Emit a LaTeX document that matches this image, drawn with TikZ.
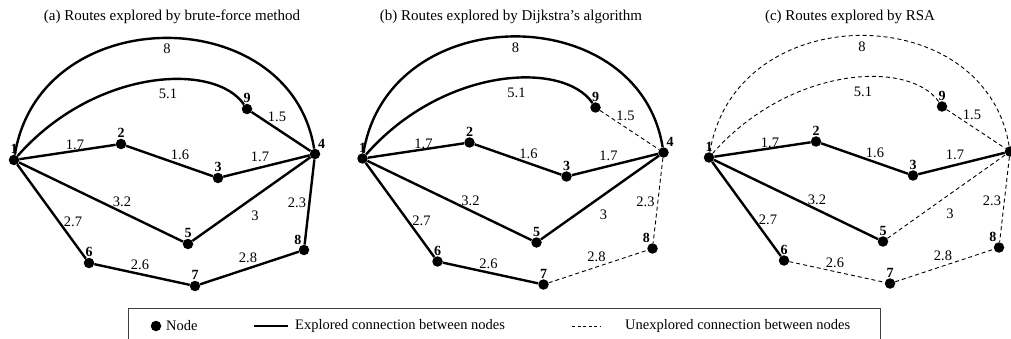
\documentclass[tikz,border=0pt]{standalone}
\usepackage{fontspec}
\setmainfont{Liberation Serif}
\usepackage{tikz}

\tikzset{
    dot/.style={circle, fill=black, inner sep=0pt, minimum size=10.5pt},
    num/.style={font=\bfseries\fontsize{14}{14}\selectfont, inner sep=0.5pt},
    wt/.style={font=\fontsize{14.5}{14.5}\selectfont, inner sep=0pt},
    ttl/.style={font=\fontsize{15}{15}\selectfont, inner sep=0pt},
    lgd/.style={font=\fontsize{14.5}{14.5}\selectfont, inner sep=0pt, anchor=west},
    explored/.style={line width=2.4pt},
    unexplored/.style={line width=0.9pt, dash pattern=on 4pt off 3pt},
    e12/.style=explored, e23/.style=explored, e34/.style=explored,
    e15/.style=explored, e54/.style=explored, e16/.style=explored,
    e67/.style=explored, e78/.style=explored, e48/.style=explored,
    e19/.style=explored, e94/.style=explored, e14/.style=explored,
}

%% one road map, #1 = name prefix
\newcommand{\routemap}[1]{%
    %% Nodes
    \node[dot, label={[num]90:1}]  (#1-1) at (14,160) {};
    \node[dot, label={[num]90:2}]  (#1-2) at (121,144) {};
    \node[dot, label={[num]90:3}]  (#1-3) at (218,178) {};
    \node[dot, label={[num]65:4}]  (#1-4) at (315,154) {};
    \node[dot, label={[num]90:5}]  (#1-5) at (188,244) {};
    \node[dot, label={[num]90:6}]  (#1-6) at (89,263) {};
    \node[dot, label={[num]90:7}]  (#1-7) at (195,286) {};
    \node[dot, label={[num]112:8}] (#1-8) at (304,250) {};
    \node[dot, label={[num]90:9}]  (#1-9) at (247,109) {};
    %% Connections
    \draw[e14] (#1-1) .. controls +(26,-160) and +(-25,-154) .. (#1-4);
    \draw[e19] (#1-1) .. controls +(81,-92) and +(-32,-47) .. (#1-9);
    \draw[e94] (#1-9) to (#1-4);
    \draw[e12] (#1-1) to (#1-2);
    \draw[e23] (#1-2) to (#1-3);
    \draw[e34] (#1-3) to (#1-4);
    \draw[e15] (#1-1) to (#1-5);
    \draw[e54] (#1-5) to (#1-4);
    \draw[e16] (#1-1) to (#1-6);
    \draw[e67] (#1-6) to (#1-7);
    \draw[e78] (#1-7) to (#1-8);
    \draw[e48] (#1-4) to (#1-8);
    %% Weights
    \node[wt] (#1-w14) at (167,49)  {8};
    \node[wt] (#1-w19) at (168,94)  {5.1};
    \node[wt] (#1-w94) at (277,117) {1.5};
    \node[wt] (#1-w12) at (75,145)  {1.7};
    \node[wt] (#1-w23) at (180,155) {1.6};
    \node[wt] (#1-w34) at (260,157) {1.7};
    \node[wt] (#1-w15) at (122,202) {3.2};
    \node[wt] (#1-w54) at (255,216) {3};
    \node[wt] (#1-w48) at (297,203) {2.3};
    \node[wt] (#1-w16) at (73,222)  {2.7};
    \node[wt] (#1-w67) at (140,265) {2.6};
    \node[wt] (#1-w78) at (248,258) {2.8};
}

\begin{document}
\begin{tikzpicture}[x=1pt, y=-1pt]
    %% Background
    \useasboundingbox (0,0) rectangle (1011,339);
    \clip (0,0) rectangle (1011,339);
    %% Titles
    \node[ttl] (ta) at (172,17) {(a) Routes explored by brute-force method};
    \node[ttl] (tb) at (511,17) {(b) Routes explored by Dijkstra's algorithm};
    \node[ttl] (tc) at (850,17) {(c) Routes explored by RSA};
    %% (a) brute-force
    \routemap{a}
    %% (b) Dijkstra
    \begin{scope}[xshift=348.5pt, yshift=1.5pt,
        e94/.style=unexplored, e48/.style=unexplored, e78/.style=unexplored]
        \routemap{b}
    \end{scope}
    %% (c) RSA
    \begin{scope}[xshift=695pt, yshift=2.5pt,
        e14/.style=unexplored, e19/.style=unexplored, e94/.style=unexplored,
        e54/.style=unexplored, e48/.style=unexplored, e67/.style=unexplored,
        e78/.style=unexplored]
        \routemap{c}
    \end{scope}
    %% Legend
    \draw[line width=0.8pt, black!75] (128,308) rectangle (880,360);
    \node[dot] (lg-dot) at (156,326) {};
    \node[lgd] (lg-node) at (166,326) {Node};
    \coordinate (lg-s1) at (254,326);
    \coordinate (lg-s2) at (288,326);
    \draw[line width=1.8pt] (lg-s1) to (lg-s2);
    \node[lgd] (lg-exp) at (295,326) {Explored connection between nodes};
    \coordinate (lg-d1) at (572,326);
    \coordinate (lg-d2) at (600,326);
    \draw[line width=0.9pt, dash pattern=on 3pt off 2.5pt] (lg-d1) to (lg-d2);
    \node[lgd] (lg-unexp) at (625,326) {Unexplored connection between nodes};
\end{tikzpicture}
\end{document}
